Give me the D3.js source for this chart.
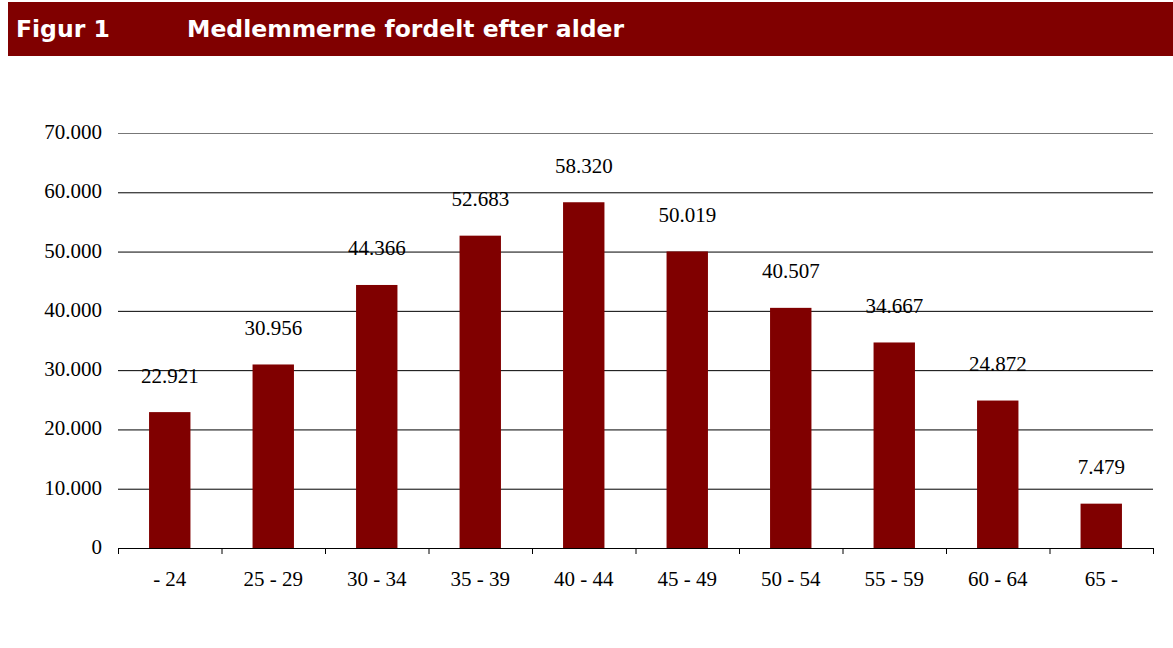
<!DOCTYPE html>
<html><head><meta charset="utf-8">
<script src="https://cdn.jsdelivr.net/npm/d3@7"></script>
<style>body{margin:0;background:#fff;}svg{display:block;}
.serif{font-family:"Liberation Serif","DejaVu Serif",serif;font-size:21px;fill:#000;}
.head{font-family:"DejaVu Sans","Verdana",sans-serif;font-weight:bold;font-size:23.5px;fill:#fff;}
</style>
</head><body>
<svg id="c" width="1173" height="648"></svg>
<script>
const categories = ["- 24","25 - 29","30 - 34","35 - 39","40 - 44","45 - 49","50 - 54","55 - 59","60 - 64","65 -"];
const values = [22921,30956,44366,52683,58320,50019,40507,34667,24872,7479];
const yTicks = [0,10000,20000,30000,40000,50000,60000,70000];
const figLabel = "Figur 1";
const title = "Medlemmerne fordelt efter alder";

(function(){
const svg = d3.select("#c");
const color = "#800000";
const fmt = v => d3.format(",")(v).replace(/,/g, ".");

svg.append("rect").attr("x",8).attr("y",2).attr("width",1165).attr("height",54).attr("fill",color);
svg.append("text").attr("class","head").attr("x",16).attr("y",37).text(figLabel);
svg.append("text").attr("class","head").attr("x",187).attr("y",37).text(title);

const mL = 118, mR = 1153, mT = 133, mB = 548;
const x = d3.scaleBand().domain(categories).range([mL,mR]).paddingInner(0.6).paddingOuter(0.3);
const xb = d3.scaleBand().domain(categories).range([mL,mR]);
const y = d3.scaleLinear().domain([0,70000]).range([mB,mT]);

svg.append("g").selectAll("line").data(yTicks.filter(d=>d>0)).join("line")
  .attr("x1",mL).attr("x2",mR).attr("y1",d=>y(d)+0.5).attr("y2",d=>y(d)+0.5)
  .attr("stroke",d=>d===70000?"#777":"#000").attr("stroke-width",1);

svg.append("g").selectAll("text").data(yTicks).join("text").attr("class","serif")
  .attr("x",102).attr("y",d=>y(d)+6).attr("text-anchor","end").text(d=>fmt(d));

svg.append("g").selectAll("rect").data(values).join("rect")
  .attr("x",(d,i)=>x(categories[i])).attr("width",x.bandwidth())
  .attr("y",d=>y(d)).attr("height",d=>mB-y(d)).attr("fill",color);

svg.append("g").selectAll("text").data(values).join("text").attr("class","serif")
  .attr("x",(d,i)=>x(categories[i])+x.bandwidth()/2).attr("y",d=>y(d)-29.5)
  .attr("text-anchor","middle").text(d=>fmt(d));

svg.append("line").attr("x1",mL).attr("x2",mR).attr("y1",mB+0.5).attr("y2",mB+0.5).attr("stroke","#000");
const tickPos = categories.map(c=>xb(c)).concat([mR]);
svg.append("g").selectAll("line").data(tickPos).join("line")
  .attr("x1",d=>d+0.5).attr("x2",d=>d+0.5).attr("y1",mB).attr("y2",mB+6).attr("stroke","#000");
svg.append("g").selectAll("text").data(categories).join("text").attr("class","serif")
  .attr("x",d=>xb(d)+xb.bandwidth()/2).attr("y",586).attr("text-anchor","middle").text(d=>d);
})();
</script>
</body></html>
